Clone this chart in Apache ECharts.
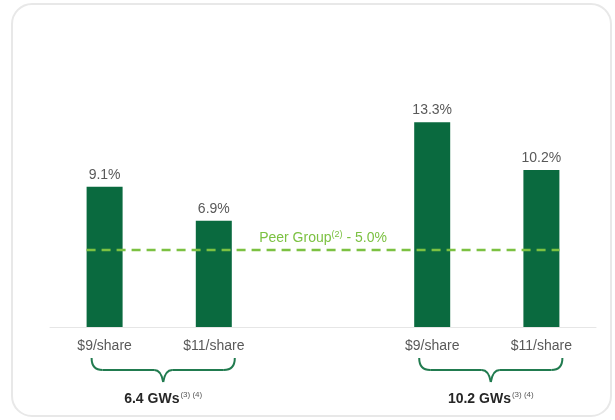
<!DOCTYPE html>
<html>
<head>
<meta charset="utf-8">
<script src="https://cdn.jsdelivr.net/npm/echarts@6/dist/echarts.min.js"></script>
<style>
html,body{margin:0;padding:0;background:#fff;}
#c{width:615px;height:420px;}
</style>
</head>
<body>
<div id="c"></div>
<script>
const categories = ['$9/share', '$11/share', '', '$9/share', '$11/share'];
const values = [9.1, 6.9, '-', 13.3, 10.2];
const peerValue = 5.0;
const peerLabel = ['Peer Group', '(2)', ' - 5.0%'];
const groups = [
  { name: '6.4 GWs', sup: '(3) (4)', from: 0, to: 1 },
  { name: '10.2 GWs', sup: '(3) (4)', from: 3, to: 4 }
];

const BAR = '#0a6a3f';
const PEER = '#7cc142';
const BRACE = '#217b4f';
const FONT = 'Liberation Sans, Arial, sans-serif';
const halfBar = 0.165;

const chart = echarts.init(document.getElementById('c'), null, { renderer: 'canvas' });
const option = {
  animation: false,
  backgroundColor: '#ffffff',
  grid: { left: 50, right: 19, top: 19, bottom: 93, containLabel: false },
  xAxis: [{
    type: 'category',
    data: categories,
    axisLine: { show: true, lineStyle: { color: '#e6e6e6', width: 1 } },
    axisTick: { show: false },
    axisLabel: { color: '#595959', fontSize: 14, fontFamily: FONT, margin: 12 }
  }, {
    type: 'value', min: -0.5, max: 4.5, show: false
  }],
  yAxis: {
    type: 'value', min: 0, max: 20, show: false, splitLine: { show: false }
  },
  series: [{
    type: 'bar',
    data: values,
    barWidth: 36,
    itemStyle: { color: BAR },
    label: {
      show: true, position: 'top', distance: 5,
      color: '#595959', fontSize: 14, fontFamily: FONT,
      formatter: p => p.value.toFixed(1) + '%'
    },
    z: 2
  }, {
    type: 'line',
    xAxisIndex: 1,
    data: [[-halfBar, peerValue], [4 + halfBar, peerValue]],
    symbol: 'none',
    lineStyle: { color: PEER, width: 2.5, type: [9, 6] },
    z: 5,
    silent: true
  }]
};
chart.setOption(option);

function build() {
  const g = [];
  g.push({
    type: 'rect', z: -10,
    shape: { x: 12, y: 4, width: 599, height: 412, r: 20 },
    style: { fill: '#fff', stroke: '#e8e8e8', lineWidth: 2 }
  });
  const base = chart.convertToPixel({ yAxisIndex: 0 }, 0);
  const st = { stroke: BRACE, lineWidth: 2, fill: null };
  groups.forEach(gr => {
    const x0 = chart.convertToPixel({ xAxisIndex: 0 }, gr.from) - 13;
    const x1 = chart.convertToPixel({ xAxisIndex: 0 }, gr.to) + 21;
    const xc = (x0 + x1) / 2;
    const yTop = base + 31, yMid = base + 43, yPt = base + 55;
    g.push({ type: 'bezierCurve', shape: { x1: x0, y1: yTop, cpx1: x0, cpy1: yMid, x2: x0 + 11, y2: yMid }, style: st });
    g.push({ type: 'line', shape: { x1: x0 + 11, y1: yMid, x2: xc - 9, y2: yMid }, style: st });
    g.push({ type: 'bezierCurve', shape: { x1: xc - 9, y1: yMid, cpx1: xc - 2, cpy1: yMid, x2: xc, y2: yPt }, style: st });
    g.push({ type: 'bezierCurve', shape: { x1: xc, y1: yPt, cpx1: xc + 2, cpy1: yMid, x2: xc + 9, y2: yMid }, style: st });
    g.push({ type: 'line', shape: { x1: xc + 9, y1: yMid, x2: x1 - 11, y2: yMid }, style: st });
    g.push({ type: 'bezierCurve', shape: { x1: x1 - 11, y1: yMid, cpx1: x1, cpy1: yMid, x2: x1, y2: yTop }, style: st });
    g.push({
      type: 'text', x: xc, y: base + 72,
      style: {
        text: `{b|${gr.name}}{s|${gr.sup}}`,
        align: 'center', verticalAlign: 'middle',
        rich: {
          b: { fontSize: 14, fontWeight: 'bold', fill: '#262626', fontFamily: FONT },
          s: { fontSize: 8, fill: '#595959', fontFamily: FONT, padding: [0, 0, 8, 1] }
        }
      }
    });
  });
  const px = chart.convertToPixel({ xAxisIndex: 0 }, 2);
  const py = chart.convertToPixel({ yAxisIndex: 0 }, peerValue);
  g.push({
    type: 'text', x: px, y: py - 12, z: 10,
    style: {
      text: `{a|${peerLabel[0]}}{s|${peerLabel[1]}}{a|${peerLabel[2]}}`,
      align: 'center', verticalAlign: 'middle',
      rich: {
        a: { fontSize: 14, fill: PEER, fontFamily: FONT },
        s: { fontSize: 9, fill: PEER, fontFamily: FONT, padding: [0, 0, 7, 0] }
      }
    }
  });
  chart.setOption({ graphic: g });
}
build();
</script>
</body>
</html>
